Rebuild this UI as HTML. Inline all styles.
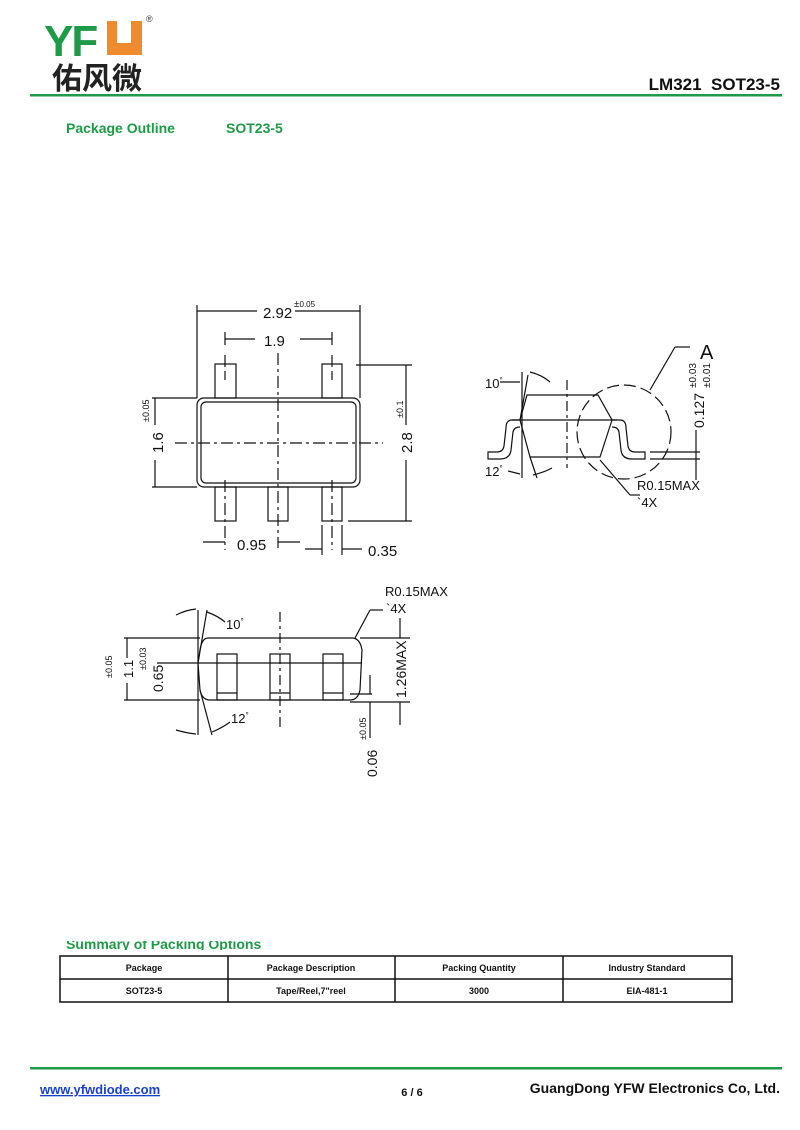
<!DOCTYPE html>
<html><head><meta charset="utf-8"><style>
html,body{margin:0;padding:0;background:#fff;}
svg{display:block}
</style></head><body>
<svg width="800" height="1130" viewBox="0 0 800 1130" xmlns="http://www.w3.org/2000/svg" font-family="Liberation Sans, Arial, sans-serif">
<!-- header -->
<text x="44" y="56" font-size="44" font-weight="bold" fill="#1f9a48" letter-spacing="-2">YF</text>
<path d="M107 21 h10 v22 h14 v-22 h11 v34 h-35z" fill="#ef8a2e"/>
<text x="146" y="22" font-size="9" fill="#333">®</text>
<text x="52" y="89" font-size="30" font-weight="bold" fill="#222" font-family="Liberation Sans, Noto Sans CJK SC, sans-serif">佑风微</text>
<rect x="30" y="94" width="752" height="2.5" fill="#1f9a48"/>
<text x="780" y="90" font-size="17" font-weight="bold" text-anchor="end" fill="#111" xml:space="preserve">LM321  SOT23-5</text>
<text x="66" y="133" font-size="14" font-weight="bold" fill="#1f9a48">Package Outline</text>
<text x="226" y="133" font-size="14" font-weight="bold" fill="#1f9a48">SOT23-5</text>

<g stroke="#111" fill="none" stroke-width="1.2">
<!-- top view -->
<rect x="197" y="398" width="163" height="89" rx="7"/>
<rect x="201" y="402" width="155" height="81" rx="5"/>
<rect x="215" y="364" width="21" height="34"/>
<rect x="322" y="364" width="20" height="34"/>
<rect x="215" y="487" width="21" height="34"/>
<rect x="268" y="487" width="20" height="34"/>
<rect x="322" y="487" width="20" height="34"/>
<line x1="278" y1="353" x2="278" y2="548" stroke-dasharray="12,4,3,4"/>
<line x1="175" y1="443" x2="383" y2="443" stroke-dasharray="12,4,3,4"/>
<line x1="225" y1="355" x2="225" y2="380" stroke-dasharray="12,4"/>
<line x1="332" y1="355" x2="332" y2="380" stroke-dasharray="12,4"/>
<line x1="225" y1="480" x2="225" y2="550" stroke-dasharray="12,4,3,4"/>
<line x1="332" y1="480" x2="332" y2="550" stroke-dasharray="12,4,3,4"/>
<line x1="322" y1="525" x2="322" y2="555"/><line x1="342" y1="525" x2="342" y2="555"/>
<line x1="197" y1="305" x2="197" y2="398"/><line x1="360" y1="305" x2="360" y2="398"/>
<line x1="197" y1="311" x2="257" y2="311"/><line x1="295" y1="311" x2="360" y2="311"/>
<line x1="225" y1="332" x2="225" y2="345"/><line x1="332" y1="332" x2="332" y2="345"/>
<line x1="225" y1="339" x2="255" y2="339"/><line x1="300" y1="339" x2="332" y2="339"/>
<line x1="152" y1="398" x2="197" y2="398"/><line x1="152" y1="487" x2="197" y2="487"/>
<line x1="155" y1="398" x2="155" y2="425"/><line x1="155" y1="460" x2="155" y2="487"/>
<line x1="356" y1="365" x2="412" y2="365"/><line x1="348" y1="521" x2="412" y2="521"/>
<line x1="406" y1="365" x2="406" y2="425"/><line x1="406" y1="460" x2="406" y2="521"/>
<line x1="203" y1="542" x2="225" y2="542"/><line x1="278" y1="542" x2="300" y2="542"/>
<line x1="305" y1="549" x2="322" y2="549"/><line x1="342" y1="549" x2="362" y2="549"/>

<!-- side view -->
<path d="M527 395 L598 395 L612 420 L600 457 L530 457 L520 420 Z"/>
<line x1="512" y1="420" x2="617" y2="420"/>
<path d="M520 420 L512 420 Q506 420 506 428 L504 446 Q503 452 497 452 L488 452 L488 459 L500 459 Q510 459 511 450 L513 432 Q514 427 520 427"/>
<path d="M612 420 L620 420 Q626 420 626 428 L628 446 Q629 452 635 452 L645 452 L645 459 L632 459 Q622 459 621 450 L619 432 Q618 427 612 427"/>
<circle cx="624" cy="432" r="47" stroke-dasharray="12,5"/>
<line x1="567" y1="380" x2="567" y2="468" stroke-dasharray="10,4,3,4"/>
<line x1="522" y1="372" x2="522" y2="478"/>
<line x1="520" y1="420" x2="528" y2="375"/>
<line x1="530" y1="457" x2="537" y2="478"/>
<path d="M530 372 Q542 375 550 382"/>
<path d="M533 475 Q545 472 552 468"/>
<line x1="500" y1="382" x2="520" y2="382"/>
<line x1="508" y1="471" x2="520" y2="474"/>
<line x1="650" y1="452" x2="700" y2="452"/><line x1="650" y1="459" x2="700" y2="459"/>
<line x1="696" y1="430" x2="696" y2="480"/>
<line x1="690" y1="347" x2="675" y2="347"/><line x1="675" y1="347" x2="650" y2="390"/>
<line x1="600" y1="460" x2="630" y2="495"/><line x1="630" y1="495" x2="640" y2="495"/>

<!-- bottom view -->
<path d="M208 638 L352 638 Q360 638 362 650 L360 690 Q358 700 350 700 L210 700 Q202 700 200 690 L198 663 L200 650 Q202 638 208 638Z"/>
<rect x="217" y="654" width="20" height="46"/><line x1="217" y1="693" x2="237" y2="693"/>
<rect x="270" y="654" width="20" height="46"/><line x1="270" y1="693" x2="290" y2="693"/>
<rect x="323" y="654" width="20" height="46"/><line x1="323" y1="693" x2="343" y2="693"/>
<line x1="157" y1="663" x2="362" y2="663"/>
<line x1="198" y1="610" x2="198" y2="735"/>
<line x1="280" y1="612" x2="280" y2="728" stroke-dasharray="10,4,3,4"/>
<line x1="198" y1="663" x2="207" y2="610"/>
<line x1="200" y1="690" x2="212" y2="735"/>
<path d="M176 615 Q186 610 196 609"/><path d="M176 730 Q186 733 196 734"/>
<path d="M207 612 Q218 616 225 622"/><path d="M212 732 Q222 728 230 722"/>
<line x1="124" y1="638" x2="200" y2="638"/><line x1="124" y1="700" x2="200" y2="700"/>
<line x1="127" y1="638" x2="127" y2="658"/><line x1="127" y1="683" x2="127" y2="700"/>
<line x1="355" y1="638" x2="370" y2="610"/><line x1="370" y1="610" x2="383" y2="610"/>
<line x1="360" y1="638" x2="410" y2="638"/><line x1="350" y1="702" x2="410" y2="702"/>
<line x1="400" y1="618" x2="400" y2="638"/><line x1="400" y1="702" x2="400" y2="725"/>
<line x1="350" y1="694" x2="372" y2="694"/>
<line x1="370" y1="675" x2="370" y2="694"/><line x1="370" y1="702" x2="370" y2="738"/>
</g>
<g font-size="15" fill="#111">
<text x="263" y="318">2.92</text>
<text x="294" y="307" font-size="10">±<tspan font-size="8">0.05</tspan></text>
<text x="264" y="346">1.9</text>
<text transform="translate(163,453) rotate(-90)">1.6</text>
<text transform="translate(149,422) rotate(-90)" font-size="9">±0.05</text>
<text transform="translate(412,453) rotate(-90)">2.8</text>
<text transform="translate(403,418) rotate(-90)" font-size="9">±0.1</text>
<text x="237" y="550">0.95</text>
<text x="368" y="556">0.35</text>
<text x="485" y="388" font-size="13">10<tspan font-size="8" dy="-5">°</tspan></text>
<text x="485" y="476" font-size="13">12<tspan font-size="8" dy="-5">°</tspan></text>
<text x="700" y="359" font-size="20">A</text>
<text transform="translate(704,428) rotate(-90)" font-size="14">0.127</text>
<text transform="translate(696,388) rotate(-90)" font-size="10">±0.03</text>
<text transform="translate(710,388) rotate(-90)" font-size="10">±0.01</text>
<text x="637" y="490" font-size="13">R0.15MAX</text>
<text x="637" y="507" font-size="13">`4X</text>
<text x="226" y="629" font-size="13">10<tspan font-size="8" dy="-5">°</tspan></text>
<text x="231" y="723" font-size="13">12<tspan font-size="8" dy="-5">°</tspan></text>
<text transform="translate(133,678) rotate(-90)" font-size="13">1.1</text>
<text transform="translate(112,678) rotate(-90)" font-size="9">±0.05</text>
<text transform="translate(146,670) rotate(-90)" font-size="9">±0.03</text>
<text transform="translate(163,692) rotate(-90)" font-size="14">0.65</text>
<text x="385" y="596" font-size="13">R0.15MAX</text>
<text x="386" y="613" font-size="13">`4X</text>
<text transform="translate(406,698) rotate(-90)" font-size="14">1.26MAX</text>
<text transform="translate(366,740) rotate(-90)" font-size="9">±0.05</text>
<text transform="translate(377,777) rotate(-90)" font-size="14">0.06</text>
</g>

<!-- table -->
<defs><clipPath id="c"><rect x="0" y="941" width="800" height="9"/></clipPath></defs>
<text x="66" y="949" font-size="14" font-weight="bold" fill="#1f9a48" clip-path="url(#c)">Summary of Packing Options</text>
<g stroke="#111" stroke-width="1.5" fill="none">
<rect x="60" y="956" width="672" height="46"/>
<line x1="60" y1="979" x2="732" y2="979"/>
<line x1="228" y1="956" x2="228" y2="1002"/>
<line x1="395" y1="956" x2="395" y2="1002"/>
<line x1="563" y1="956" x2="563" y2="1002"/>
</g>
<g font-size="9" font-weight="bold" fill="#111" text-anchor="middle">
<text x="144" y="971">Package</text><text x="311" y="971">Package Description</text>
<text x="479" y="971">Packing Quantity</text><text x="647" y="971">Industry Standard</text>
<text x="144" y="994">SOT23-5</text><text x="311" y="994">Tape/Reel,7"reel</text>
<text x="479" y="994">3000</text><text x="647" y="994">EIA-481-1</text>
</g>
<rect x="30" y="1067" width="752" height="2.5" fill="#1f9a48"/>
<text x="40" y="1094" font-size="13" font-weight="bold" fill="#1a3fcc" text-decoration="underline">www.yfwdiode.com</text>
<text x="412" y="1096" font-size="11" font-weight="bold" text-anchor="middle" fill="#111">6 / 6</text>
<text x="780" y="1093" font-size="14" font-weight="bold" text-anchor="end" fill="#111">GuangDong YFW Electronics Co, Ltd.</text>
</svg>
</body></html>
